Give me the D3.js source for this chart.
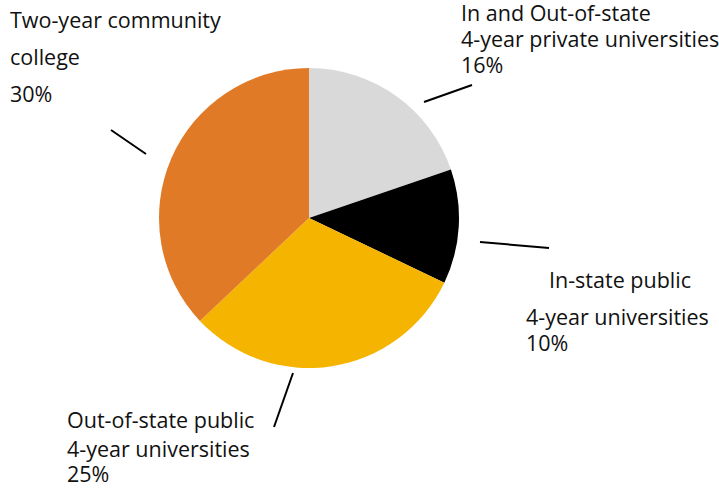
<!DOCTYPE html>
<html>
<head>
<meta charset="utf-8">
<script src="https://cdn.jsdelivr.net/npm/d3@7"></script>
<style>
  body { margin: 0; background: #fff; }
  text { font-family: "Open Sans", sans-serif; font-size: 21.5px; fill: #111; }
</style>
</head>
<body>
<script>
const categories = [
  "In and Out-of-state 4-year private universities",
  "In-state public 4-year universities",
  "Out-of-state public 4-year universities",
  "Two-year community college"
];
const shares = [16, 10, 25, 30];
const colors = ["#d9d9d9", "#000000", "#f4b400", "#e07a27"];

// label lines and leader positions (layout only)
const labelLines = [
  ["In and Out-of-state", "4-year private universities", "16%"],
  ["In-state public", "4-year universities", "10%"],
  ["Out-of-state public", "4-year universities", "25%"],
  ["Two-year community", "college", "30%"]
];
const labelLayout = [
  { x: [461, 461, 461], y: [21, 47, 73], line: [[424, 102], [472, 85]] },
  { x: [549, 526, 526], y: [288, 325, 351], line: [[480, 242], [549, 248]] },
  { x: [67, 67, 67], y: [428, 457, 482], line: [[293, 373], [274, 427]] },
  { x: [10, 10, 10], y: [28, 65, 102], line: [[146, 154], [111, 130]] }
];

const width = 719, height = 489;
const cx = 309, cy = 218, radius = 150;

const svg = d3.select("body")
  .append("svg")
  .attr("width", width)
  .attr("height", height);

const pie = d3.pie().sort(null).value(d => d);
const arc = d3.arc().innerRadius(0).outerRadius(radius);

const color = d3.scaleOrdinal().domain(categories).range(colors);

svg.append("g")
  .attr("transform", `translate(${cx}, ${cy})`)
  .selectAll("path")
  .data(pie(shares))
  .enter()
  .append("path")
  .attr("d", arc)
  .style("fill", (d, i) => color(categories[i]));

const labels = svg.selectAll(".label")
  .data(labelLayout)
  .enter()
  .append("g")
  .attr("class", "label");

labels.append("line")
  .attr("x1", d => d.line[0][0])
  .attr("y1", d => d.line[0][1])
  .attr("x2", d => d.line[1][0])
  .attr("y2", d => d.line[1][1])
  .style("stroke", "#000")
  .style("stroke-width", 2);

labels.each(function (d, i) {
  d3.select(this)
    .selectAll("text")
    .data(labelLines[i])
    .enter()
    .append("text")
    .attr("x", (t, j) => d.x[j])
    .attr("y", (t, j) => d.y[j])
    .text(t => t);
});
</script>
</body>
</html>
